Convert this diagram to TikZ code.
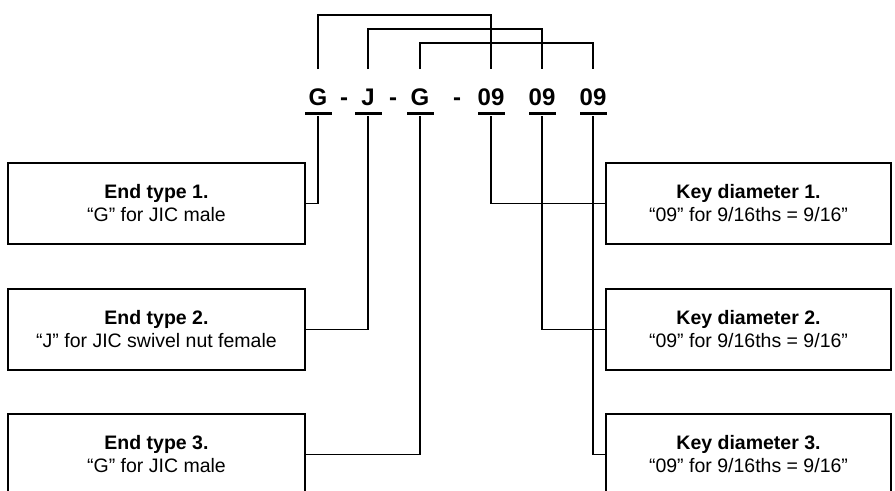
\documentclass[tikz,border=0pt]{standalone}
\usepackage{fontspec}
\setmainfont{Liberation Sans}
\usepackage{tikz}
\usetikzlibrary{positioning}
\tikzset{box/.style={rectangle,draw,line width=1pt,minimum height=40.5pt,align=center,inner sep=0pt,font=\fontsize{9.75}{11.5}\selectfont},
  ebox/.style={box,minimum width=148.5pt},
  kbox/.style={box,minimum width=142.5pt},
  code/.style={font=\bfseries\fontsize{12}{14}\selectfont,text height=8.6pt,text depth=0pt,minimum height=27pt,inner sep=0pt},
  bar/.style={fill,minimum width=13.5pt,minimum height=1.5pt,inner sep=0pt}}

\begin{document}
\begin{tikzpicture}[x=0.5pt,y=-0.5pt,line width=0.75pt]
    \useasboundingbox (0,0) rectangle (895,491);

    \node[code] (a) at (318,97) {G};
    \node[code] (s1) at (344,97) {-};
    \node[code] (b) at (368,97) {J};
    \node[code] (s2) at (393,97) {-};
    \node[code] (c) at (420,97) {G};
    \node[code] (s3) at (457,97) {-};
    \node[code] (d) at (491,97) {09};
    \node[code] (e) at (542,97) {09};
    \node[code] (f) at (593,97) {09};

    \node[bar] (ua) at (318,114) {};
    \node[bar] (ub) at (368,114) {};
    \node[bar] (uc) at (420,114) {};
    \node[bar] (ud) at (491,114) {};
    \node[bar] (ue) at (542,114) {};
    \node[bar] (uf) at (593,114) {};

    \node[ebox] (end1) at (156.5,203.5) {\textbf{End type 1.}\\“G” for JIC male};
    \node[ebox] (end2) at (156.5,329.5) {\textbf{End type 2.}\\“J” for JIC swivel nut female};
    \node[ebox] (end3) at (156.5,454.5) {\textbf{End type 3.}\\“G” for JIC male};
    \node[kbox] (key1) at (748.5,203.5) {\textbf{Key diameter 1.}\\“09” for 9/16ths = 9/16”};
    \node[kbox] (key2) at (748.5,329.5) {\textbf{Key diameter 2.}\\“09” for 9/16ths = 9/16”};
    \node[kbox] (key3) at (748.5,454.5) {\textbf{Key diameter 3.}\\“09” for 9/16ths = 9/16”};

    \coordinate (h1) at (0,15);
    \coordinate (h2) at (0,29);
    \coordinate (h3) at (0,43);

    \draw (a.north) -- (a.north |- h1) -| (d.north);
    \draw (b.north) -- (b.north |- h2) -| (e.north);
    \draw (c.north) -- (c.north |- h3) -| (f.north);

    \draw (ua) |- (end1.east);
    \draw (ub) |- (end2.east);
    \draw (uc) |- (end3.east);
    \draw (ud) |- (key1.west);
    \draw (ue) |- (key2.west);
    \draw (uf) |- (key3.west);
\end{tikzpicture}
\end{document}
